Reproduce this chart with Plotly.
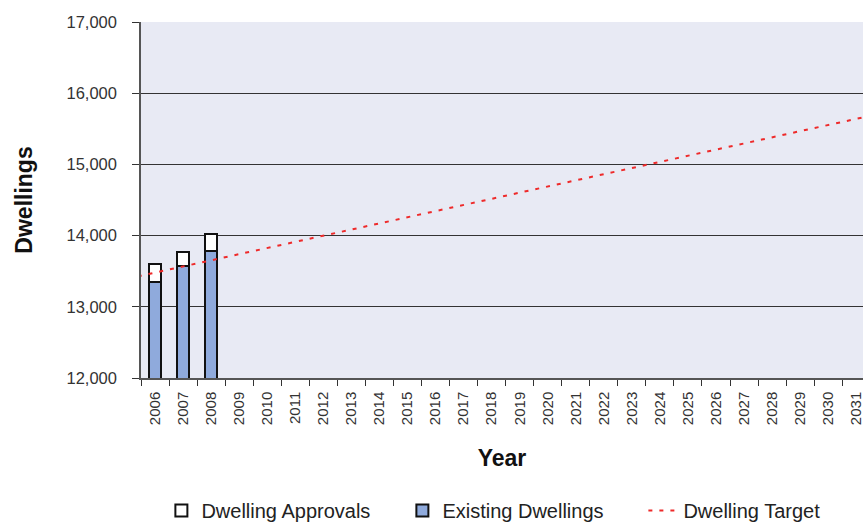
import plotly.graph_objects as go

years = [2006, 2007, 2008, 2009, 2010, 2011, 2012, 2013, 2014, 2015, 2016, 2017, 2018,
         2019, 2020, 2021, 2022, 2023, 2024, 2025, 2026, 2027, 2028, 2029, 2030, 2031]
bar_years = [2006, 2007, 2008]
existing_dwellings = [13345, 13575, 13790]
dwelling_approvals = [250, 195, 230]
target_years = [2005, 2032]
target_values = [13394, 15726]
y_ticks = [12000, 13000, 14000, 15000, 16000, 17000]

FONT = "Liberation Sans, Arial, Helvetica, sans-serif"

fig = go.Figure()
fig.add_trace(go.Bar(
    x=bar_years, y=existing_dwellings, name="Existing Dwellings", width=0.45,
    marker=dict(color="#8FAADC", line=dict(color="#111111", width=2)),
    legendrank=2,
))
fig.add_trace(go.Bar(
    x=bar_years, y=dwelling_approvals, name="Dwelling Approvals", width=0.45,
    marker=dict(color="#FFFFFF", line=dict(color="#111111", width=2)),
    legendrank=1,
))
fig.add_trace(go.Scatter(
    x=target_years, y=target_values, name="Dwelling Target", mode="lines",
    line=dict(color="#EE2A2A", width=2, dash="4px,7px"),
    legendrank=3,
))

fig.update_layout(
    width=863, height=524,
    barmode="stack",
    paper_bgcolor="white",
    plot_bgcolor="#E8EAF4",
    margin=dict(l=141, r=0, t=22, b=146),
    font=dict(family=FONT, color="#222222", size=14),
    showlegend=True,
    legend=dict(
        orientation="h", xref="container", yref="container",
        x=0.187, xanchor="left", y=0.063, yanchor="top",
        font=dict(size=20, color="#222222"),
        entrywidth=196, entrywidthmode="pixels",
        traceorder="normal",
        bgcolor="rgba(0,0,0,0)",
    ),
    xaxis=dict(
        range=[2005.5, 2031.24],
        tickmode="array", tickvals=years, ticktext=[str(y) for y in years],
        tickangle=-90, ticks="", ticklabelstandoff=6,
        ticklabeloverflow="allow",
        tickfont=dict(size=15, color="#333333"),
        showline=True, linecolor="#555555", linewidth=1.5,
        showgrid=False, zeroline=False,
        minor=dict(ticks="outside", tickmode="linear", tick0=2005.5, dtick=1,
                   ticklen=6, tickcolor="#333333", tickwidth=1.2, showgrid=False),
        title=dict(text="<b>Year</b>", font=dict(size=23, color="#111111"), standoff=26),
    ),
    yaxis=dict(
        range=[12000, 17000],
        tickmode="array", tickvals=y_ticks, tickformat=",",
        ticks="outside", ticklen=7, tickcolor="#333333", tickwidth=1.2,
        ticklabelstandoff=12,
        tickfont=dict(size=16.5, color="#333333"),
        showline=True, linecolor="#555555", linewidth=1.5,
        showgrid=True, gridcolor="#333333", gridwidth=1,
        zeroline=False,
        title=dict(text="<b>Dwellings</b>", font=dict(size=23, color="#111111"), standoff=27),
    ),
)

fig.write_html("out.html", config={"displayModeBar": False},
               post_script="document.body.style.margin='0';")
